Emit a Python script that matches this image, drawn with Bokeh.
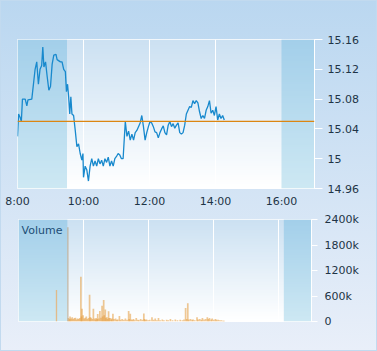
import numpy as np
from bokeh.plotting import figure
from bokeh.models import Span, Label, FixedTicker, Range1d
from bokeh.layouts import column
from bokeh.embed import file_html
from bokeh.resources import INLINE

# ---------------- data ----------------
price_times = ["8:00","8:02","8:05","8:07","8:09","8:14","8:17","8:19","8:26","8:32","8:35","8:38","8:41","8:44",
               "8:46","8:48","8:51","8:54","8:57","9:00","9:03","9:06","9:10","9:12","9:18","9:21","9:24","9:27",
               "9:29","9:31","9:33","9:35","9:37","9:39","9:42","9:45","9:48","9:51","9:54","9:57","9:59","10:00",
               "10:03","10:06","10:09","10:12","10:15","10:18","10:21","10:24","10:27","10:30","10:33","10:36",
               "10:39","10:42","10:45","10:48","10:51","10:54","10:57","11:00","11:03","11:06","11:09","11:12",
               "11:16","11:19","11:22","11:25","11:28","11:31","11:34","11:37","11:40","11:43","11:46","11:49",
               "11:52","11:55","11:58","12:01","12:04","12:07","12:10","12:13","12:16","12:19","12:22","12:25",
               "12:28","12:31","12:34","12:37","12:40","12:43","12:46","12:49","12:52","12:55","12:58","13:01",
               "13:04","13:07","13:10","13:13","13:16","13:19","13:22","13:25","13:28","13:31","13:34","13:37",
               "13:40","13:43","13:46","13:49","13:52","13:55","13:58","14:01","14:04","14:07","14:10","14:13","14:16"]
price_values = [15.030,15.060,15.055,15.050,15.080,15.080,15.071,15.079,15.080,15.120,15.130,15.100,15.120,15.125,
                15.150,15.123,15.130,15.110,15.092,15.097,15.127,15.139,15.140,15.133,15.130,15.130,15.120,15.117,
                15.090,15.100,15.083,15.060,15.083,15.060,15.058,15.038,15.016,15.020,15.007,14.998,15.007,14.975,
                14.990,14.985,14.970,14.990,15.000,14.990,14.997,14.990,15.000,14.993,14.998,14.990,
                15.000,14.995,15.002,14.990,14.997,14.990,15.000,15.003,15.007,15.005,15.000,15.000,
                15.050,15.030,15.037,15.025,15.033,15.025,15.035,15.038,15.043,15.048,15.058,15.043,
                15.025,15.035,15.043,15.050,15.048,15.043,15.036,15.035,15.028,15.035,15.040,15.044,
                15.035,15.032,15.045,15.050,15.043,15.047,15.041,15.045,15.048,15.035,15.033,15.035,
                15.045,15.060,15.065,15.070,15.069,15.078,15.074,15.078,15.075,15.063,15.054,15.058,
                15.054,15.065,15.070,15.078,15.061,15.065,15.058,15.070,15.052,15.060,15.054,15.058,15.052]
previous_close = 15.05

price_ticks = [14.96, 15.0, 15.04, 15.08, 15.12, 15.16]
price_tick_labels = ["14.96", "15", "15.04", "15.08", "15.12", "15.16"]
time_ticks = [8, 10, 12, 14, 16]
time_tick_labels = ["8:00", "10:00", "12:00", "14:00", "16:00"]

auction_times = ["9:10", "9:31"]
auction_volumes = [740000, 2220000]
volume_times = ["9:32","9:34","9:35","9:37","9:39","9:41","9:43","9:45","9:47","9:49","9:51","9:53","9:55","9:56",
                "9:57","9:59","10:01","10:03","10:05","10:07","10:09","10:11","10:12","10:14","10:16","10:18",
                "10:20","10:22","10:23","10:25","10:26","10:28","10:30","10:32","10:34","10:35","10:37","10:38",
                "10:40","10:41","10:43","10:44","10:46","10:47","10:49","10:51","10:52","10:54","10:56","10:59",
                "11:01","11:03","11:06","11:08","11:11","11:14","11:17","11:20","11:23","11:24","11:26","11:28",
                "11:30","11:32","11:34","11:37","11:40","11:42","11:45","11:48","11:51","11:52","11:54","11:56",
                "11:59","12:02","12:06","12:09","12:12","12:15","12:18","12:21","12:25","12:28","12:33","12:36",
                "12:40","12:44","12:49","12:53","12:58","13:02","13:05","13:08","13:10","13:12","13:14","13:17",
                "13:20","13:22","13:25","13:29","13:31","13:34","13:37","13:39","13:42","13:45","13:48","13:50",
                "13:52","13:55","13:57","14:00","14:03","14:05","14:08","14:11","14:14","14:17","14:19"]
volume_values = [80,60,120,70,100,60,80,90,50,70,60,80,1055,120,
                 300,150,70,90,120,60,80,630,100,90,60,300,
                 70,50,80,60,175,70,250,90,370,120,505,150,
                 280,90,100,60,240,80,80,50,70,180,60,70,
                 40,50,130,40,60,40,70,40,250,60,180,50,
                 40,60,30,80,40,30,60,40,190,60,40,50,
                 30,40,100,40,70,30,80,30,50,30,40,30,
                 60,30,50,30,40,30,50,320,60,430,50,60,
                 40,50,30,100,50,60,40,80,50,60,100,60,
                 80,50,70,40,60,40,40,30,30,20,20]
volume_values = [v * 1000 for v in volume_values]
volume_ticks = [0, 600000, 1200000, 1800000, 2400000]
volume_tick_labels = ["0", "600k", "1200k", "1800k", "2400k"]

day_start, day_end = 8.0, 17.0
pre_close, post_open = 9.5, 16.0
vol_post_open = 16.15


def hours(s):
    h, m = s.split(":")
    return int(h) + int(m) / 60.0


def gradient(top, bottom, n=64):
    t = np.linspace(0.0, 1.0, n)[:, None]
    top = np.array([int(top[i:i + 2], 16) for i in (1, 3, 5)], dtype=float)
    bottom = np.array([int(bottom[i:i + 2], 16) for i in (1, 3, 5)], dtype=float)
    rgb = bottom + (top - bottom) * t
    img = np.empty((n, 1), dtype=np.uint32)
    view = img.view(dtype=np.uint8).reshape((n, 1, 4))
    view[:, 0, 0:3] = np.round(rgb).astype(np.uint8)
    view[:, 0, 3] = 255
    return img


FONT = "DejaVu Sans"
TXT = "#1e3446"
PLOT_TOP, PLOT_BOTTOM = "#cce1f2", "#ffffff"
SHADE_TOP, SHADE_BOTTOM = "#a3cfea", "#cde8f3"

# ---------------- price chart ----------------
p1 = figure(width=377, height=210, output_backend="svg", toolbar_location=None,
            x_range=Range1d(day_start, day_end), y_range=Range1d(price_ticks[0], price_ticks[-1]),
            y_axis_location="right", min_border_left=17, min_border_right=63,
            min_border_top=39, min_border_bottom=22)
p1.frame_align = False
p1.border_fill_alpha = 0
p1.background_fill_alpha = 0
p1.outline_line_color = "white"

y0, y1 = price_ticks[0], price_ticks[-1]
p1.image_rgba(image=[gradient(PLOT_TOP, PLOT_BOTTOM)], x=day_start, y=y0, dw=day_end - day_start, dh=y1 - y0, level="image")
p1.image_rgba(image=[gradient(SHADE_TOP, SHADE_BOTTOM)], x=day_start, y=y0, dw=pre_close - day_start, dh=y1 - y0, level="image")
p1.image_rgba(image=[gradient(SHADE_TOP, SHADE_BOTTOM)], x=post_open, y=y0, dw=day_end - post_open, dh=y1 - y0, level="image")

p1.xgrid.ticker = FixedTicker(ticks=time_ticks[1:4])
p1.xgrid.grid_line_color = "white"
p1.xgrid.grid_line_width = 1
p1.ygrid.grid_line_color = None

p1.add_layout(Span(location=previous_close, dimension="width", line_color="#dc8612", line_width=1.3))
p1.line([hours(t) for t in price_times], price_values, line_color="#1889cd", line_width=1.3)

p1.xaxis.ticker = FixedTicker(ticks=time_ticks)
p1.xaxis.major_label_overrides = dict(zip(time_ticks, time_tick_labels))
p1.xaxis.axis_line_color = None
p1.xaxis.major_tick_line_color = None
p1.xaxis.minor_tick_line_color = None
p1.xaxis.major_tick_out = 0
p1.xaxis.minor_tick_out = 0
p1.xaxis.major_label_standoff = 6

p1.yaxis.ticker = FixedTicker(ticks=price_ticks)
p1.yaxis.major_label_overrides = dict(zip(price_ticks, price_tick_labels))
p1.yaxis.axis_line_color = "white"
p1.yaxis.major_tick_line_color = "white"
p1.yaxis.major_tick_in = 0
p1.yaxis.major_tick_out = 8
p1.yaxis.minor_tick_line_color = None
p1.yaxis.minor_tick_out = 0
p1.yaxis.major_label_standoff = 5

for ax in (p1.xaxis, p1.yaxis):
    ax.major_label_text_font = FONT
    ax.major_label_text_font_size = "11px"
    ax.major_label_text_color = TXT

p1.add_layout(Label(x=day_start, y=y1, x_offset=2, y_offset=14, text="Share Price",
                    text_font=FONT, text_font_size="11px", text_color="#1d4d75", text_baseline="bottom"))

# ---------------- volume chart ----------------
p2 = figure(width=377, height=141, output_backend="svg", toolbar_location=None,
            x_range=Range1d(day_start, day_end), y_range=Range1d(volume_ticks[0], volume_ticks[-1]),
            y_axis_location="right", min_border_left=18, min_border_right=66,
            min_border_top=9, min_border_bottom=30)
p2.frame_align = False
p2.border_fill_alpha = 0
p2.background_fill_alpha = 0
p2.outline_line_color = "white"

v0, v1 = volume_ticks[0], volume_ticks[-1]
p2.image_rgba(image=[gradient(PLOT_TOP, PLOT_BOTTOM)], x=day_start, y=v0, dw=day_end - day_start, dh=v1 - v0, level="image")
p2.image_rgba(image=[gradient(SHADE_TOP, SHADE_BOTTOM)], x=day_start, y=v0, dw=pre_close - day_start, dh=v1 - v0, level="image")
p2.image_rgba(image=[gradient(SHADE_TOP, SHADE_BOTTOM)], x=vol_post_open, y=v0, dw=day_end - vol_post_open, dh=v1 - v0, level="image")

p2.xgrid.ticker = FixedTicker(ticks=time_ticks[1:])
p2.xgrid.grid_line_color = "white"
p2.ygrid.grid_line_color = None

vx = [hours(t) for t in volume_times]
p2.segment(x0=vx, y0=[0] * len(vx), x1=vx, y1=volume_values, line_color="#e39b3c", line_alpha=0.55, line_width=1.7)
ax_ = [hours(t) for t in auction_times]
p2.segment(x0=ax_, y0=[0] * len(ax_), x1=ax_, y1=auction_volumes, line_color=["#e6b070", "#b8a890"], line_alpha=0.8, line_width=1.3)

p2.xaxis.visible = False
p2.yaxis.ticker = FixedTicker(ticks=volume_ticks)
p2.yaxis.major_label_overrides = dict(zip(volume_ticks, volume_tick_labels))
p2.yaxis.axis_line_color = "white"
p2.yaxis.major_tick_line_color = "white"
p2.yaxis.major_tick_in = 0
p2.yaxis.major_tick_out = 6
p2.yaxis.minor_tick_line_color = None
p2.yaxis.minor_tick_out = 0
p2.yaxis.major_label_standoff = 7
p2.yaxis.major_label_text_font = FONT
p2.yaxis.major_label_text_font_size = "11px"
p2.yaxis.major_label_text_color = TXT

p2.add_layout(Label(x=day_start, y=v1, x_offset=3, y_offset=-4, text="Volume",
                    text_font=FONT, text_font_size="11px", text_color="#1d4d75", text_baseline="top"))

layout = column(p1, p2, width=377, height=351, spacing=0,
                styles={"background": "linear-gradient(to bottom, #bad7f0 0%, #e9eff9 100%)",
                        "box-shadow": "inset 0 0 0 1px #c2daef"})

open("out.html", "w").write(file_html(layout, INLINE))
